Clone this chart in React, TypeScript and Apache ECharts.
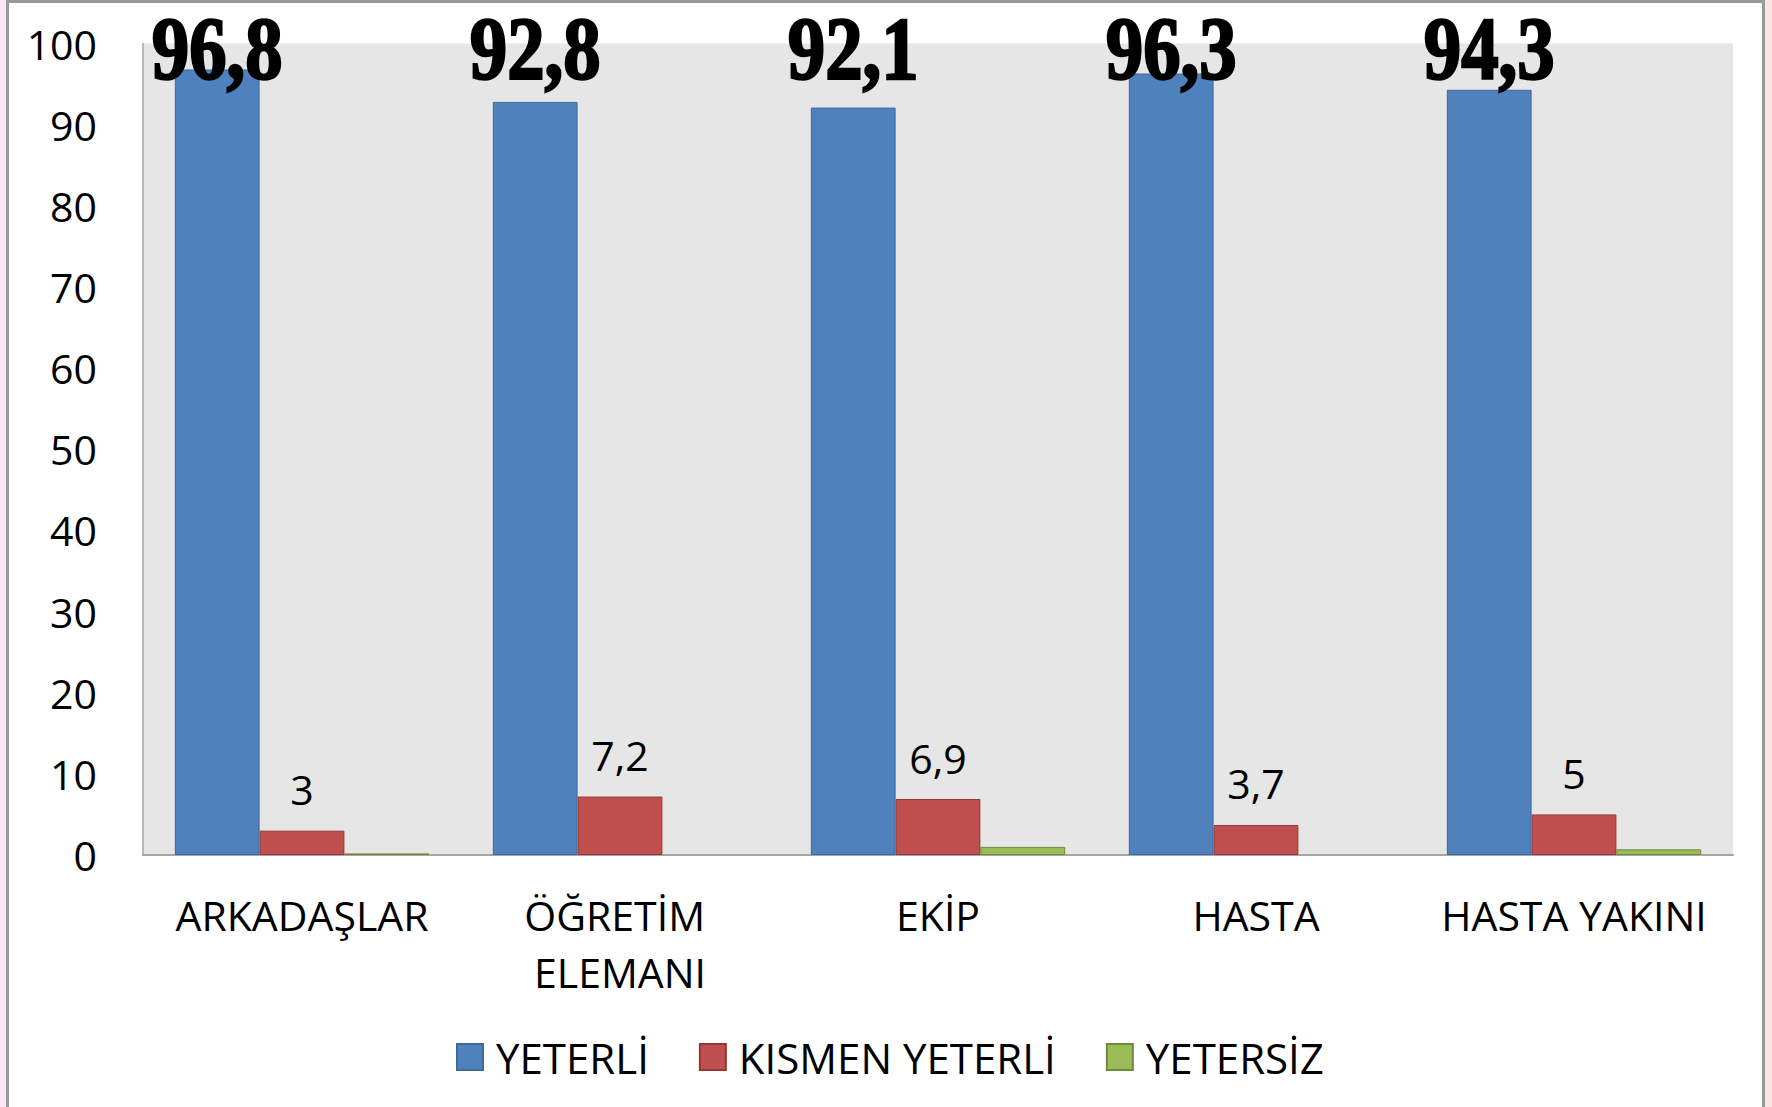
import React, { useEffect, useRef } from "react";
import * as echarts from "echarts";

const categories = ["ARKADAŞLAR", "ÖĞRETİM ELEMANI", "EKİP", "HASTA", "HASTA YAKINI"];
const yeterli = [96.8, 92.8, 92.1, 96.3, 94.3];
const kismenYeterli = [3, 7.2, 6.9, 3.7, 5];
const yetersiz = [0.2, 0, 1.0, 0, 0.7];
const seriesNames = ["YETERLİ", "KISMEN YETERLİ", "YETERSİZ"];
const yMin = 0;
const yMax = 100;
const yInterval = 10;

const SANS = "'Open Sans', 'Noto Sans', sans-serif";
const fmt = (v: number) => String(v).replace(".", ",");
const noZeroBorder = (arr: number[]) =>
  arr.map((v) => (v === 0 ? { value: v, itemStyle: { borderWidth: 0 } } : v));

export default function App() {
  const ref = useRef<HTMLDivElement>(null);

  useEffect(() => {
    if (!ref.current) return;
    const chart = echarts.init(ref.current, undefined, { renderer: "svg" });
    const barCatGap = 0.2;
    chart.setOption({
      animation: false,
      backgroundColor: "transparent",
      grid: {
        left: 143,
        right: 39,
        top: 43.5,
        bottom: 252,
        show: true,
        backgroundColor: "#e6e6e6",
        borderWidth: 0,
      },
      legend: {
        data: seriesNames,
        top: 1031,
        left: 451,
        itemWidth: 26,
        itemHeight: 26,
        itemGap: 50,
        icon: "rect",
        textStyle: { fontFamily: SANS, fontSize: 42, color: "#000", padding: [0, 0, 0, 8] },
      },
      xAxis: {
        type: "category",
        data: categories,
        axisLine: { show: true, lineStyle: { color: "#a6a6a6", width: 2 } },
        axisTick: { show: false },
        axisLabel: {
          fontFamily: SANS,
          fontSize: 41,
          color: "#000",
          margin: 31,
          lineHeight: 57,
          width: 300,
          overflow: "break",
          interval: 0,
        },
      },
      yAxis: {
        type: "value",
        min: yMin,
        max: yMax,
        interval: yInterval,
        splitLine: { show: false },
        axisLine: { show: true, lineStyle: { color: "#a6a6a6", width: 1.5 } },
        axisTick: { show: false },
        axisLabel: { fontFamily: SANS, fontSize: 41, color: "#000", margin: 46 },
      },
      series: [
        {
          name: seriesNames[0],
          type: "bar",
          data: yeterli,
          barGap: "0%",
          barCategoryGap: barCatGap * 100 + "%",
          itemStyle: { color: "#4f81bd", borderColor: "#3d6a9f", borderWidth: 1 },
        },
        {
          name: seriesNames[1],
          type: "bar",
          data: kismenYeterli,
          barGap: "0%",
          barCategoryGap: barCatGap * 100 + "%",
          itemStyle: { color: "#c0504d", borderColor: "#953735", borderWidth: 1 },
          label: {
            show: true,
            position: "top",
            distance: 21,
            fontFamily: SANS,
            fontSize: 41,
            color: "#000",
            formatter: (p: any) => fmt(p.value),
          },
        },
        {
          name: seriesNames[2],
          type: "bar",
          data: noZeroBorder(yetersiz),
          barGap: "0%",
          barCategoryGap: barCatGap * 100 + "%",
          itemStyle: { color: "#9bbb59", borderColor: "#71893f", borderWidth: 1 },
        },
        {
          name: "labels",
          type: "custom",
          data: yeterli.map((v, i) => [i, v]),
          z: 10,
          renderItem: (params: any, api: any) => {
            const band = api.size([1, 0])[0];
            const p = api.coord([api.value(0), yMax]);
            const off = -((band * (1 - barCatGap)) / 3);
            return {
              type: "text",
              x: p[0] + off,
              y: p[1] + 5,
              scaleX: 0.85,
              style: {
                text: fmt(api.value(1)),
                font: "bold 88px 'Liberation Serif', 'DejaVu Serif', serif",
                fill: "#000",
                stroke: "#000",
                lineWidth: 2.5,
                textAlign: "center",
                textVerticalAlign: "middle",
              },
            };
          },
        },
      ],
    });
    return () => chart.dispose();
  }, []);

  return (
    <div style={{ position: "fixed", left: 0, top: 0, width: 1772, height: 1107, overflow: "hidden", background: "#f9e8f2" }}>
      <div style={{ position: "absolute", left: 1762, top: 0, width: 10, height: 1107, background: "#f9e6e0" }} />
      <div
        style={{
          position: "absolute",
          left: 6,
          top: 0,
          width: 1759,
          height: 1120,
          boxSizing: "border-box",
          border: "3px solid #9a9a9a",
          background: "#ffffff",
        }}
      />
      <div ref={ref} style={{ position: "absolute", left: 0, top: 0, width: 1772, height: 1107 }} />
    </div>
  );
}
